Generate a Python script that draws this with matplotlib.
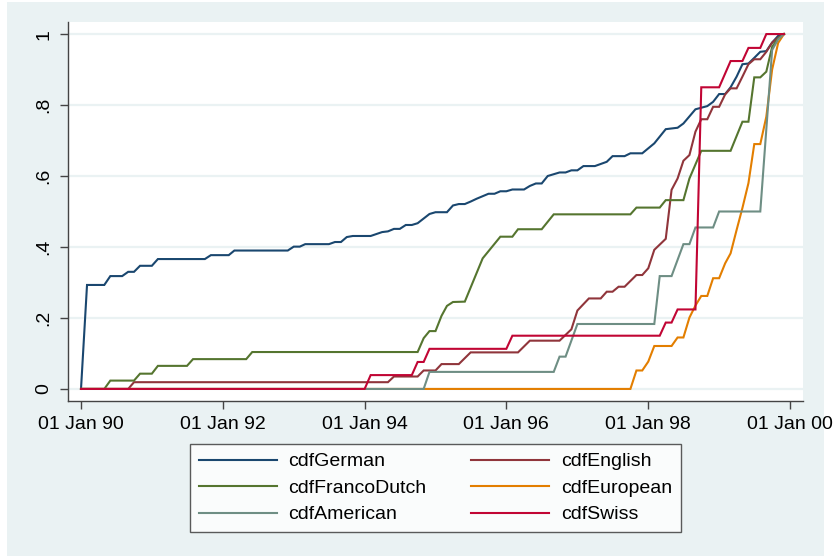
import pandas as pd
import matplotlib
matplotlib.use("Agg")
import matplotlib.pyplot as plt
import matplotlib.dates as mdates
from matplotlib.patches import Rectangle

# Cumulative distribution by month: (months since Jan 1990, cumulative share)
cdf_german = [(0, 0.0), (1, .293), (4, .293), (5, .318), (7, .318), (8, .330), (9, .330),
              (10, .347), (12, .347), (13, .366), (21, .366), (22, .377), (25, .377),
              (26, .390), (35, .390), (36, .401), (37, .401), (38, .408), (42, .408),
              (43, .414), (44, .414), (45, .428), (46, .431), (49, .431), (51, .442),
              (52, .444), (53, .451), (54, .451), (55, .462), (56, .462), (57, .467),
              (59, .493), (60, .498), (62, .498), (63, .517), (64, .521), (65, .521),
              (66, .528), (67, .536), (69, .550), (70, .550), (71, .557), (72, .557),
              (73, .562), (75, .562), (76, .572), (77, .579), (78, .579), (79, .600),
              (81, .610), (82, .610), (83, .616), (84, .616), (85, .628), (87, .628),
              (89, .640), (90, .656), (92, .656), (93, .664), (95, .664), (97, .692),
              (99, .732), (101, .736), (102, .748), (104, .788), (106, .797), (107, .809),
              (108, .831), (109, .831), (110, .850), (111, .880), (112, .915), (113, .917),
              (114, .933), (115, .950), (116, .952), (117, .976), (118, .995), (119, 1.0)]

cdf_english = [(0, 0.0), (8, 0.0), (9, .019), (52, .019), (53, .035), (57, .035),
               (58, .052), (60, .052), (61, .070), (64, .070), (66, .103), (74, .103),
               (76, .136), (81, .136), (83, .168), (84, .221), (86, .255), (88, .255),
               (89, .274), (90, .274), (91, .288), (92, .288), (94, .321), (95, .321),
               (96, .340), (97, .392), (99, .423), (100, .561), (101, .593), (102, .643),
               (103, .659), (104, .725), (105, .760), (106, .760), (107, .795), (108, .795),
               (109, .830), (110, .847), (111, .847), (112, .880), (113, .915), (114, .929),
               (115, .929), (116, .950), (117, .976), (118, .990), (119, 1.0)]

cdf_francodutch = [(0, 0.0), (4, 0.0), (5, .0235), (9, .0235), (10, .043), (12, .043),
                   (13, .065), (18, .065), (19, .084), (28, .084), (29, .104), (57, .104),
                   (58, .143), (59, .163), (60, .163), (61, .206), (62, .234), (63, .245),
                   (65, .246), (68, .368), (71, .429), (73, .429), (74, .450), (78, .450),
                   (80, .492), (93, .492), (94, .511), (98, .511), (99, .532), (102, .532),
                   (103, .593), (105, .671), (110, .671), (112, .753), (113, .753),
                   (114, .878), (115, .878), (116, .894), (117, .964), (118, .988), (119, 1.0)]

cdf_european = [(0, 0.0), (93, 0.0), (94, .052), (95, .052), (96, .077), (97, .121),
                (100, .121), (101, .145), (102, .145), (103, .201), (104, .235), (105, .262),
                (106, .262), (107, .312), (108, .312), (109, .354), (110, .382), (111, .448),
                (112, .510), (113, .580), (114, .690), (115, .690), (116, .767), (117, .900),
                (118, .975), (119, 1.0)]

cdf_american = [(0, 0.0), (58, 0.0), (59, .048), (80, .048), (81, .091), (82, .091),
                (84, .183), (97, .183), (98, .318), (100, .318), (102, .408), (103, .408),
                (104, .455), (107, .455), (108, .500), (115, .500), (117, .955), (118, .985),
                (119, 1.0)]

cdf_swiss = [(0, 0.0), (48, 0.0), (49, .039), (56, .039), (57, .076), (58, .076),
             (59, .113), (72, .113), (73, .150), (98, .150), (99, .187), (100, .187),
             (101, .224), (104, .224), (105, .850), (108, .850), (110, .924), (112, .924),
             (113, .961), (115, .961), (116, 1.0), (119, 1.0)]

series_names = ["cdfGerman", "cdfEnglish", "cdfFrancoDutch", "cdfEuropean", "cdfAmerican", "cdfSwiss"]
series_data = [cdf_german, cdf_english, cdf_francodutch, cdf_european, cdf_american, cdf_swiss]
series_colors = ["#1A476F", "#90353B", "#55752F", "#E37E00", "#6E8E84", "#C10534"]

y_ticks = [0, 0.2, 0.4, 0.6, 0.8, 1.0]
y_tick_labels = ["0", ".2", ".4", ".6", ".8", "1"]
x_tick_years = [1990, 1992, 1994, 1996, 1998, 2000]

plt.rcParams["font.family"] = ["Liberation Sans", "DejaVu Sans"]

W, H = 837, 558
fig = plt.figure(figsize=(W / 100, H / 100), dpi=100)
fig.patch.set_facecolor("white")
fig.patches.append(Rectangle((7 / W, 1 - 556 / H), (824 - 7) / W, (556 - 2) / H,
                             transform=fig.transFigure, facecolor="#EAF2F3",
                             edgecolor="none", zorder=-10))

ax = fig.add_axes([68 / W, 1 - 401 / H, (803 - 68) / W, (401 - 22) / H])
ax.set_facecolor("white")

start = pd.Timestamp("1990-01-01")
lines = {}
for z, (name, data, color) in enumerate(zip(series_names, series_data, series_colors)):
    m, v = zip(*data)
    dates = [start + pd.DateOffset(months=int(k)) for k in m]
    ln, = ax.plot(dates, v, color=color, linewidth=1.5, label=name, zorder=3 + z,
                  solid_joinstyle="miter")
    lines[name] = ln

# axes ranges and ticks
pad_days = pd.Timedelta(days=67)
ax.set_xlim(pd.Timestamp("1990-01-01") - pad_days, pd.Timestamp("2000-01-01") + pad_days)
ax.set_ylim(-0.034, 1.034)
ax.set_xticks([pd.Timestamp(f"{y}-01-01") for y in x_tick_years])
ax.xaxis.set_major_formatter(mdates.DateFormatter("%d %b %y"))
ax.set_yticks(y_ticks)
ax.set_yticklabels(y_tick_labels, rotation=90, va="center")

ax.tick_params(axis="both", direction="out", length=6, width=1, color="#444444",
               labelsize=14, labelcolor="black")
ax.tick_params(axis="x", pad=5)
ax.tick_params(axis="y", pad=5)

ax.yaxis.grid(True, color="#EAF2F3", linewidth=1.6)
ax.xaxis.grid(False)
ax.set_axisbelow(True)

for s in ["top", "right"]:
    ax.spines[s].set_visible(False)
for s in ["left", "bottom"]:
    ax.spines[s].set_color("#444444")
    ax.spines[s].set_linewidth(1)

# legend: two columns, filled row by row
order = ["cdfGerman", "cdfFrancoDutch", "cdfAmerican", "cdfEnglish", "cdfEuropean", "cdfSwiss"]
leg = fig.legend([lines[n] for n in order], order, ncol=2, loc="upper center",
                 bbox_to_anchor=(435.5 / W, 1 - 444 / H), fontsize=14,
                 frameon=True, fancybox=False, shadow=False,
                 handlelength=4.0, handletextpad=0.6, columnspacing=2.3,
                 labelspacing=0.46, borderpad=0.45, borderaxespad=0)
leg.get_frame().set_edgecolor("#333333")
leg.get_frame().set_linewidth(1)
leg.get_frame().set_facecolor("white")
for l in leg.get_lines():
    l.set_linewidth(1.5)

fig.savefig("out.png", dpi=100, facecolor=fig.get_facecolor())
